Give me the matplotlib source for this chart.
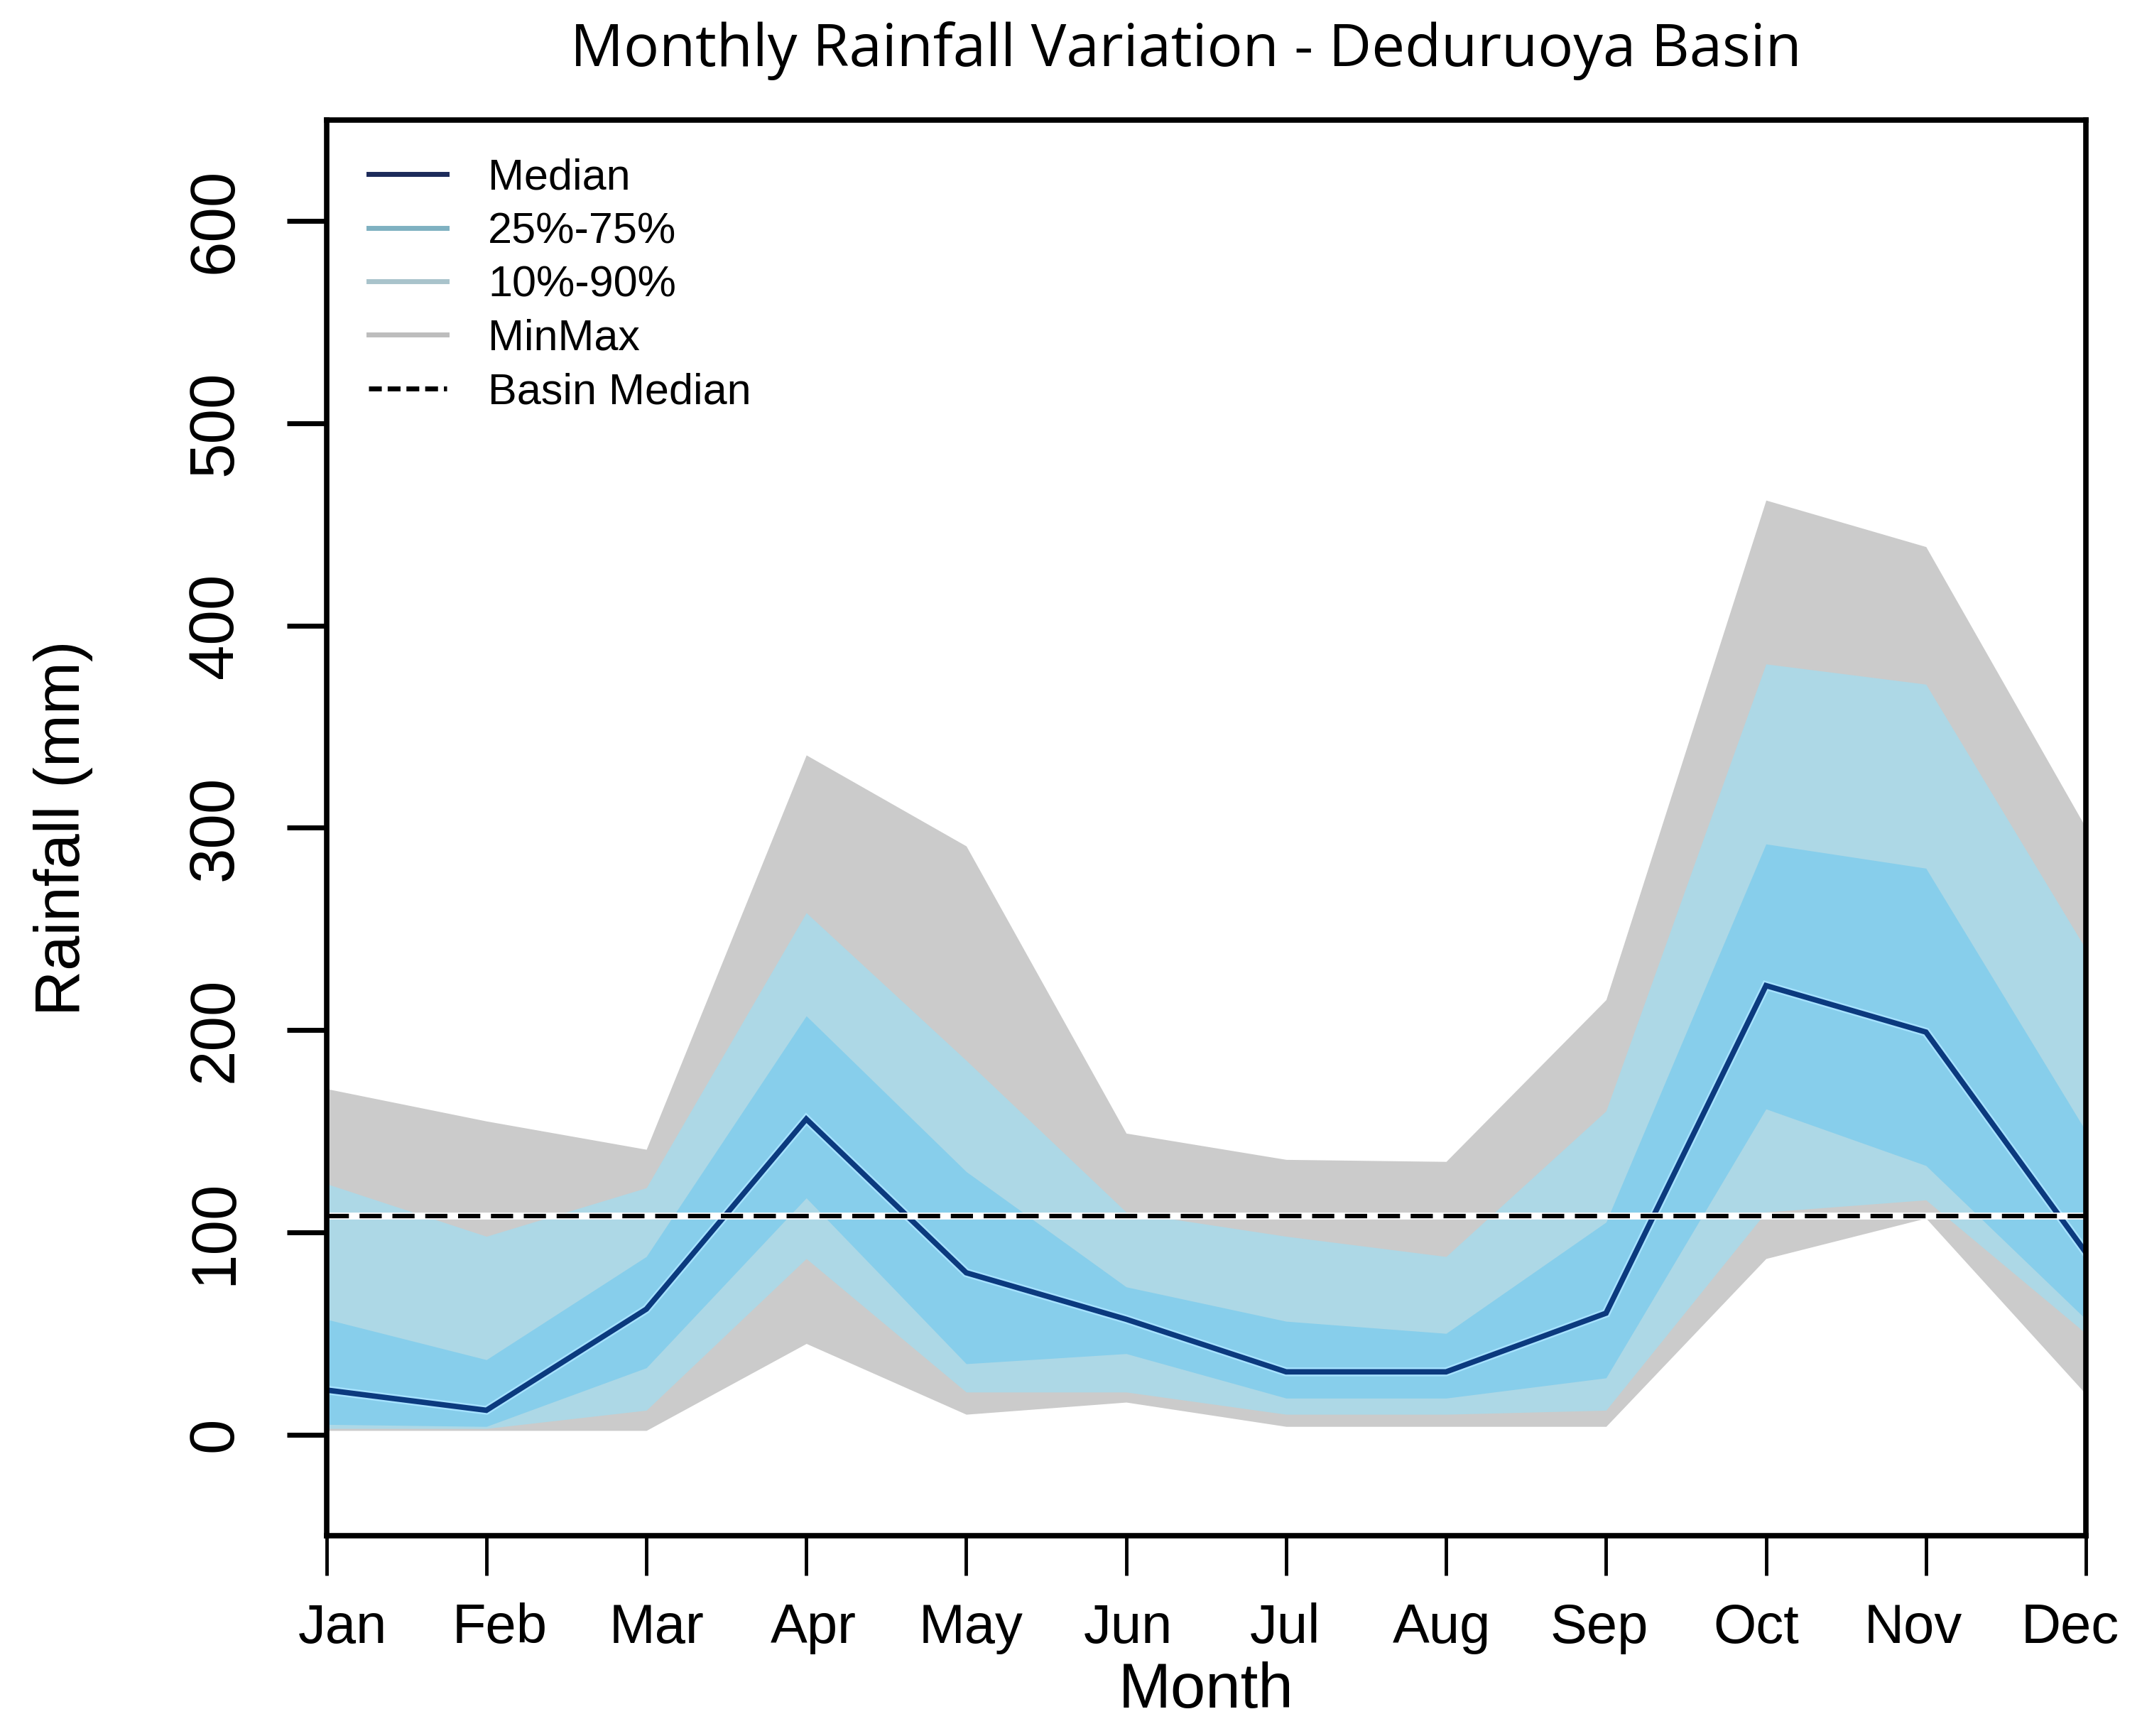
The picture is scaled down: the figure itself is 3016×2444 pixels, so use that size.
import matplotlib
matplotlib.use("Agg")
import matplotlib.pyplot as plt
import matplotlib.patheffects as pe
from matplotlib.lines import Line2D
import numpy as np

months = ["Jan", "Feb", "Mar", "Apr", "May", "Jun", "Jul", "Aug", "Sep", "Oct", "Nov", "Dec"]
min_vals = [2, 2, 2, 45, 10, 16, 4, 4, 4, 87, 107, 20]
p10_vals = [3, 3, 12, 87, 21, 21, 10, 10, 12, 110, 116, 50]
p25_vals = [5, 4, 33, 117, 35, 40, 18, 18, 28, 161, 133, 57]
median_vals = [22, 12, 62, 156, 80, 57, 31, 31, 60, 222, 199, 90]
p75_vals = [57, 37, 88, 207, 130, 73, 56, 50, 105, 292, 280, 150]
p90_vals = [124, 98, 122, 258, 185, 110, 98, 88, 160, 381, 371, 240]
max_vals = [171, 155, 141, 336, 291, 149, 136, 135, 215, 462, 439, 300]
basin_median = 108
y_ticks = [0, 100, 200, 300, 400, 500, 600]

regular = ["Liberation Sans", "DejaVu Sans"]

fig = plt.figure(figsize=(30.16, 24.44), dpi=100)
ax = fig.add_axes([0.1524, 0.1154, 0.8214, 0.8155])

x = np.arange(1, len(months) + 1)
c_gray = "#cbcbcb"
c_light = "#add8e6"
c_mid = "#87ceeb"
c_med = "#0b3a7e"

ax.fill_between(x, min_vals, max_vals, color=c_gray, lw=0)
ax.fill_between(x, p10_vals, p90_vals, color=c_light, lw=0)
ax.fill_between(x, p25_vals, p75_vals, color=c_mid, lw=0)
ax.plot(x, median_vals, color=c_med, lw=5.5, solid_joinstyle="miter",
        path_effects=[pe.Stroke(linewidth=9, foreground="#a6e2ff"), pe.Normal()])
ax.axhline(basin_median, color="white", lw=7)
ax.axhline(basin_median, color="black", lw=4.5, ls=(0, (5, 2.4)))

ax.set_xlim(1, 12)
ax.set_ylim(-50, 650)

# ticks
ax.set_xticks(x)
ax.set_xticklabels([])
ax.tick_params(axis="x", which="major", direction="out", length=40, width=3.5, color="black")
label_pos = 1.10 + np.arange(len(months)) * 0.982
ax.set_xticks(label_pos, minor=True)
ax.set_xticklabels(months, minor=True, fontsize=56, family=regular)
ax.tick_params(axis="x", which="minor", length=0, pad=68)

ax.set_yticks(y_ticks)
ax.set_yticklabels([str(v) for v in y_ticks], rotation=90, va="center",
                   fontsize=64, family=regular)
ax.tick_params(axis="y", direction="out", length=40, width=5, pad=42)

for s in ax.spines.values():
    s.set_linewidth(5.5)
    s.set_color("black")

ax.set_xlabel("Month", fontsize=64, family=regular)
ax.xaxis.set_label_coords(0.5, -0.089)
ax.set_ylabel("Rainfall (mm)", fontsize=64, family=regular)
ax.yaxis.set_label_coords(-0.1326, 0.5)

fig.text(0.5536, 0.9707, "Monthly Rainfall Variation - Deduruoya Basin",
         ha="center", va="center", fontsize=60, family=["Open Sans", "DejaVu Sans"])

handles = [
    Line2D([], [], color="#1c2b5a", lw=5),
    Line2D([], [], color="#7fb1c1", lw=5),
    Line2D([], [], color="#a9c3cb", lw=5),
    Line2D([], [], color="#bdbdbd", lw=5),
    Line2D([], [], color="black", lw=5, ls=(0, (2.6, 1.2))),
]
labels = ["Median", "25%-75%", "10%-90%", "MinMax", "Basin Median"]
leg = ax.legend(handles, labels, loc="upper left", bbox_to_anchor=(0.024, 0.973),
                frameon=False, borderpad=0, borderaxespad=0, handlelength=1.8,
                handletextpad=0.95, labelspacing=0.3,
                prop={"family": regular, "size": 44})

fig.savefig("out.png", dpi=100, facecolor="white")
